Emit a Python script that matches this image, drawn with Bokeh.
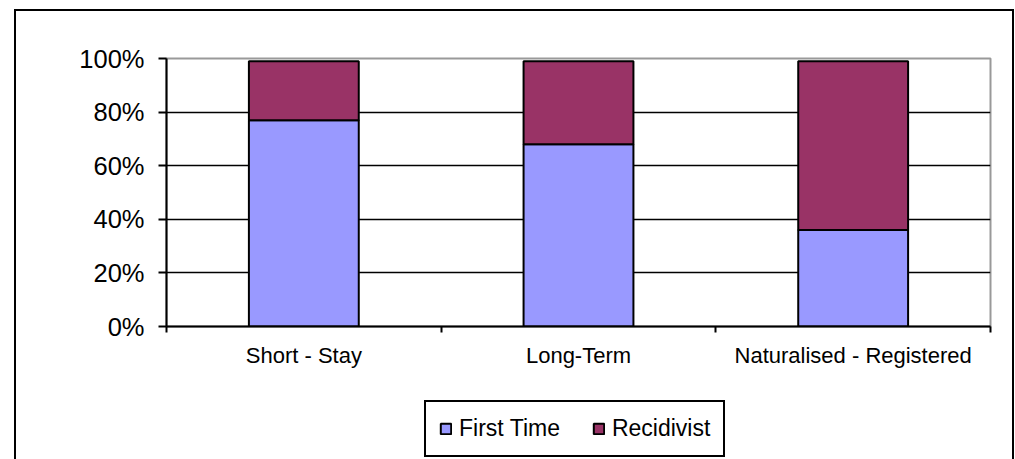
from bokeh.plotting import figure
from bokeh.layouts import column
from bokeh.models import (FixedTicker, NumeralTickFormatter, Legend, LegendItem,
                          Range1d, ColumnDataSource)
from bokeh.embed import file_html
from bokeh.resources import INLINE

categories = ["Short - Stay", "Long-Term", "Naturalised - Registered"]
series = ["First Time", "Recidivist"]
first_time = [77, 68, 36]
recidivist = [22, 31, 63]
colors = ["#9999FF", "#993366"]
y_ticks = [0, 20, 40, 60, 80, 100]

FONT = "Liberation Sans"
W, H_TOP, H_LEG = 1015, 392, 67

x = [i + 0.5 for i in range(len(categories))]
src = ColumnDataSource(dict(
    x=x,
    first=[v / 100 for v in first_time],
    recid=[v / 100 for v in recidivist],
))

# ---------------- chart ----------------
p = figure(width=W, height=H_TOP,
           x_range=Range1d(0, len(categories)), y_range=Range1d(0, 1),
           output_backend="svg", toolbar_location=None,
           min_border_left=166, min_border_right=25,
           min_border_top=58, min_border_bottom=66)
p.background_fill_color = "white"
p.border_fill_alpha = 0
p.outline_line_color = "#999999"
p.outline_line_width = 2

rs = p.vbar_stack(["first", "recid"], x="x", width=0.4, source=src,
                  fill_color=colors, line_color="black", line_width=2)

p.xgrid.visible = False
p.ygrid.ticker = FixedTicker(ticks=[t / 100 for t in y_ticks[1:-1]])
p.ygrid.grid_line_color = "black"
p.ygrid.grid_line_width = 1.5

ya = p.yaxis[0]
ya.ticker = FixedTicker(ticks=[t / 100 for t in y_ticks])
ya.formatter = NumeralTickFormatter(format="0%")
ya.axis_line_color = "black"
ya.axis_line_width = 2
ya.major_tick_line_color = "black"
ya.major_tick_line_width = 2
ya.major_tick_out = 8
ya.major_tick_in = 0
ya.minor_tick_line_color = None
ya.major_label_text_font = FONT
ya.major_label_text_font_size = "25.5px"
ya.major_label_text_color = "black"
ya.major_label_standoff = 14

xa = p.xaxis[0]
xa.ticker = FixedTicker(ticks=x, minor_ticks=list(range(len(categories) + 1)))
xa.major_label_overrides = {xi: c for xi, c in zip(x, categories)}
xa.axis_line_color = "black"
xa.axis_line_width = 2
xa.major_tick_line_color = None
xa.major_tick_out = 0
xa.major_tick_in = 0
xa.minor_tick_line_color = "black"
xa.minor_tick_line_width = 2
xa.minor_tick_out = 6
xa.minor_tick_in = 0
xa.major_label_text_font = FONT
xa.major_label_text_font_size = "22px"
xa.major_label_text_color = "black"
xa.major_label_standoff = 10

# ---------------- legend strip ----------------
# the swatch renderers sit entirely behind the opaque legend box
q = figure(width=W, height=H_LEG,
           x_range=Range1d(-2.426, 5.484), y_range=Range1d(-0.321, 1.472),
           x_axis_type=None, y_axis_type=None,
           output_backend="svg", toolbar_location=None,
           min_border=0)
q.grid.visible = False
q.outline_line_color = None
q.background_fill_alpha = 0
q.border_fill_alpha = 0
qrs = q.vbar_stack(["first", "recid"], x="x", width=0.4, source=src,
                   fill_color=colors, line_color="black", line_width=2)

legend = Legend(items=[LegendItem(label=s, renderers=[r]) for s, r in zip(series, qrs)],
                orientation="horizontal", location=(258, 2))
legend.border_line_color = "black"
legend.border_line_alpha = 1
legend.border_line_width = 2
legend.background_fill_color = "white"
legend.background_fill_alpha = 1
legend.padding = 13
legend.margin = 0
legend.spacing = 32
legend.glyph_width = 13
legend.glyph_height = 13
legend.label_standoff = 7
legend.label_text_font = FONT
legend.label_text_font_size = "23px"
legend.label_text_color = "black"
q.add_layout(legend)

page = column(p, q, spacing=0)
page.styles = {
    "background-color": "white",
    "background-image": "linear-gradient(#000,#000), linear-gradient(#000,#000), linear-gradient(#000,#000)",
    "background-size": "2px 460px, 1000px 2px, 2px 460px",
    "background-position": "14px 9px, 14px 9px, 1012px 9px",
    "background-repeat": "no-repeat",
}

open("out.html", "w").write(file_html(page, INLINE))
